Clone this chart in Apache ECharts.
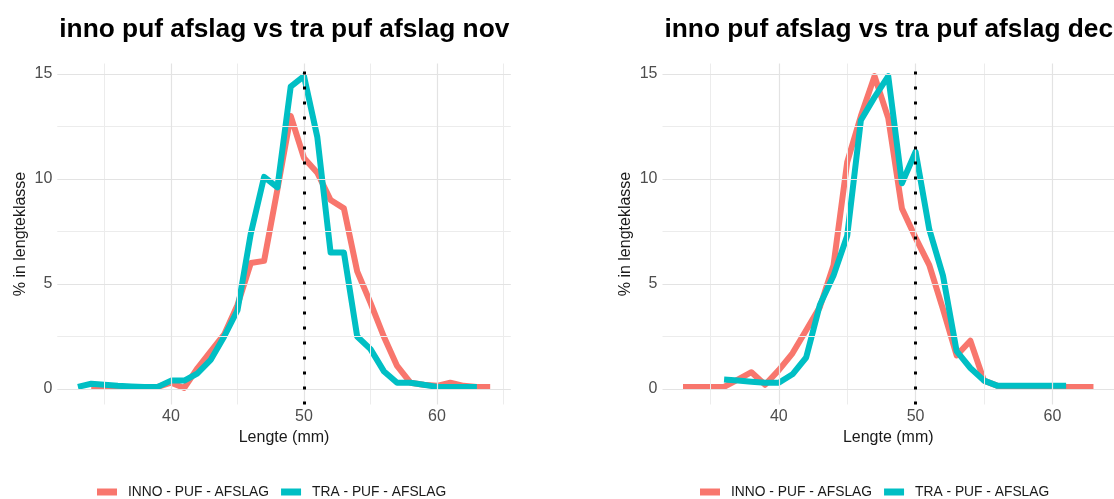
<!DOCTYPE html>
<html>
<head>
<meta charset="utf-8">
<script src="https://cdn.jsdelivr.net/npm/echarts@6/dist/echarts.min.js"></script>
<style>html,body{margin:0;padding:0;background:#fff;}#c{width:1114px;height:499px;}</style>
</head>
<body>
<div id="c"></div>
<script>
// ---- data ----
const titles = ['inno puf afslag vs tra puf afslag nov', 'inno puf afslag vs tra puf afslag dec'];
const seriesNames = ['INNO - PUF - AFSLAG', 'TRA - PUF - AFSLAG'];

const lenInnoNov = [34,35,36,37,38,39,40,41,42,43,44,45,46,47,48,49,50,51,52,53,54,55,56,57,58,59,60,61,62,63,64];
const pctInnoNov = [0.1,0.1,0.1,0.1,0.1,0.1,0.3,0.05,1.0,1.8,2.6,4.0,6.0,6.1,9.5,13.0,11.0,10.3,9.0,8.6,5.6,4.1,2.5,1.1,0.3,0.2,0.15,0.3,0.15,0.1,0.1];

const lenTraNov = [33,34,35,36,37,38,39,40,41,42,43,44,45,46,47,48,49,50,51,52,53,54,55,56,57,58,59,60,61,62,63];
const pctTraNov = [0.1,0.25,0.2,0.15,0.12,0.1,0.1,0.4,0.4,0.75,1.4,2.5,3.75,7.4,10.1,9.6,14.4,14.9,12.0,6.5,6.5,2.5,1.9,0.85,0.3,0.3,0.2,0.1,0.1,0.1,0.1];

const lenInnoDec = [33,34,35,36,37,38,39,40,41,42,43,44,45,46,47,48,49,50,51,52,53,54,55,56,57,58,59,60,61,62,63];
const pctInnoDec = [0.1,0.1,0.1,0.1,0.45,0.8,0.2,0.9,1.7,2.8,3.9,5.9,10.8,13.0,14.9,12.9,8.6,7.2,5.9,3.8,1.6,2.3,0.4,0.15,0.1,0.1,0.1,0.1,0.1,0.1,0.1];

const lenTraDec = [36,37,38,39,40,41,42,43,44,45,46,47,48,49,50,51,52,53,54,55,56,57,58,59,60,61];
const pctTraDec = [0.45,0.4,0.35,0.3,0.3,0.7,1.5,4.0,5.4,7.3,12.8,13.9,14.9,9.8,11.3,7.6,5.4,1.8,1.0,0.4,0.15,0.15,0.15,0.15,0.15,0.15];

const refLength = 50;
const xMajor = [40, 50, 60];
const xMinor = [35, 45, 55, 65];
const yMajor = [0, 5, 10, 15];
const yMinor = [2.5, 7.5, 12.5];

// ---- chart ----
const FONT = "'Liberation Sans', Arial, sans-serif";
const RED = '#F8766D', TEAL = '#00BFC4';
const pair = (xs, ys) => xs.map((x, i) => [x, ys[i]]);

const grids = [
  { left: 57.3, top: 63.5, width: 453.5, height: 341, xmin: 31.45, xmax: 65.55 },
  { left: 662.5, top: 63.5, width: 452, height: 341, xmin: 31.5, xmax: 64.5 }
];
const panelData = [
  [pair(lenInnoNov, pctInnoNov), pair(lenTraNov, pctTraNov)],
  [pair(lenInnoDec, pctInnoDec), pair(lenTraDec, pctTraDec)]
];

const option = {
  animation: false,
  backgroundColor: '#fff',
  textStyle: { fontFamily: FONT },
  title: grids.map((g, i) => ({
    text: titles[i], left: g.left + 2, top: 17, padding: 0,
    textStyle: { fontFamily: FONT, fontWeight: 'bold', fontSize: 26.3, color: '#000' }
  })),
  legend: grids.map((g, i) => ({
    left: i === 0 ? 97 : 700, top: 485, padding: 0,
    data: seriesNames, icon: 'rect', itemWidth: 20, itemHeight: 7, itemGap: 12,
    textStyle: { fontFamily: FONT, fontSize: 13.8, color: '#1a1a1a', padding: [0, 0, 0, 6] }
  })),
  grid: grids.map(g => ({ left: g.left, top: g.top, width: g.width, height: g.height, containLabel: false })),
  xAxis: grids.map((g, i) => ({
    type: 'value', gridIndex: i, min: g.xmin, max: g.xmax,
    name: 'Lengte (mm)', nameLocation: 'middle', nameGap: 25,
    nameTextStyle: { fontFamily: FONT, fontSize: 16, color: '#1a1a1a' },
    axisLine: { show: false }, axisTick: { show: false }, splitLine: { show: false },
    axisLabel: { customValues: xMajor, margin: 4, fontFamily: FONT, fontSize: 16, color: '#4d4d4d' }
  })),
  yAxis: grids.map((g, i) => ({
    type: 'value', gridIndex: i, min: -0.738, max: 15.5,
    name: '% in lengteklasse', nameLocation: 'middle', nameGap: 29,
    nameTextStyle: { fontFamily: FONT, fontSize: 16, color: '#1a1a1a' },
    axisLine: { show: false }, axisTick: { show: false }, splitLine: { show: false },
    axisLabel: { customValues: yMajor, margin: 5, fontFamily: FONT, fontSize: 16, color: '#4d4d4d' }
  })),
  series: []
};

grids.forEach((g, i) => {
  // grid lines
  option.series.push({
    type: 'line', name: 'grid' + i, xAxisIndex: i, yAxisIndex: i, data: [], z: 1, silent: true,
    markLine: {
      silent: true, symbol: 'none', label: { show: false }, animation: false,
      data: [
        ...xMinor.map(v => ({ xAxis: v, lineStyle: { color: '#ececec', width: 1, type: 'solid' } })),
        ...yMinor.map(v => ({ yAxis: v, lineStyle: { color: '#ececec', width: 1, type: 'solid' } })),
        ...xMajor.map(v => ({ xAxis: v, lineStyle: { color: '#e3e3e3', width: 1.2, type: 'solid' } })),
        ...yMajor.map(v => ({ yAxis: v, lineStyle: { color: '#e3e3e3', width: 1.2, type: 'solid' } }))
      ]
    }
  });
  // data lines
  [RED, TEAL].forEach((col, k) => {
    option.series.push({
      type: 'line', name: seriesNames[k], xAxisIndex: i, yAxisIndex: i,
      data: panelData[i][k], showSymbol: false, symbol: 'none', z: 2 + k,
      color: col, clip: false,
      lineStyle: { color: col, width: 6, join: 'round', cap: 'butt' },
      itemStyle: { color: col }
    });
  });
  // reference dotted line
  option.series.push({
    type: 'line', name: 'ref' + i, xAxisIndex: i, yAxisIndex: i, data: [], z: 10, silent: true,
    markLine: {
      silent: true, symbol: 'none', label: { show: false }, animation: false,
      lineStyle: { color: '#000', width: 3, type: [3, 12], cap: 'butt' },
      data: [{ xAxis: refLength }]
    }
  });
});

const chart = echarts.init(document.getElementById('c'), null, { renderer: 'canvas' });
chart.setOption(option);
</script>
</body>
</html>
